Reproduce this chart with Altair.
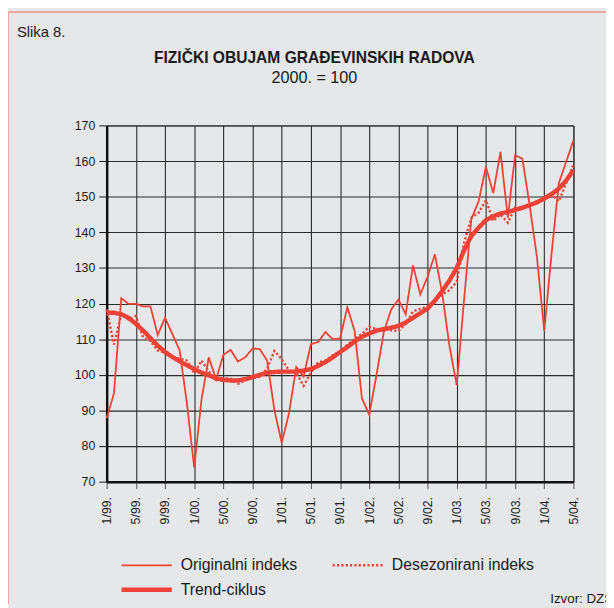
import altair as alt
import pandas as pd

tick_labels = ["1/99.", "5/99.", "9/99.", "1/00.", "5/00.", "9/00.", "1/01.", "5/01.",
               "9/01.", "1/02.", "5/02.", "9/02.", "1/03.", "5/03.", "9/03.", "1/04.", "5/04."]
month_index = list(range(65))

original = [87.8, 94.8, 121.5, 119.9, 119.9, 119.2, 119.2, 111.2, 116.0, 111.5,
            106.9, 92.0, 74.0, 93.0, 104.9, 98.7, 105.6, 107.0, 103.7, 104.9,
            107.4, 107.2, 104.0, 90.1, 80.9, 89.2, 102.2, 99.5, 108.6, 109.2,
            112.0, 110.0, 110.2, 119.0, 112.3, 93.4, 88.8, 100.0, 112.0, 118.3,
            121.1, 117.0, 130.7, 122.6, 127.5, 133.8, 122.9, 108.1, 97.1, 121.0,
            143.7, 148.7, 158.4, 151.0, 162.6, 144.1, 161.6, 160.7, 147.5, 133.0,
            112.3, 134.0, 153.8, 159.8, 165.8]

deseasonalized = [118.3, 108.5, 117.0, 115.5, 116.5, 110.5, 109.5, 106.8, 106.2, 105.2,
                  104.5, 104.0, 100.5, 104.0, 101.0, 98.4, 99.0, 98.9, 97.5, 98.4,
                  99.0, 99.5, 101.7, 106.7, 104.4, 101.2, 100.5, 96.9, 100.5, 103.5,
                  104.0, 105.5, 106.5, 108.5, 110.0, 111.5, 113.5, 112.8, 113.0, 112.5,
                  112.3, 114.2, 117.8, 118.5, 119.2, 121.0, 122.5, 123.8, 126.1, 137.0,
                  144.1, 145.5, 149.0, 143.2, 145.0, 142.7, 146.9, 147.0, 148.0, 148.7,
                  149.2, 150.6, 148.7, 153.8, 159.0]

trend = [117.5, 117.4, 117.0, 116.0, 114.3, 112.4, 110.3, 108.2, 106.4, 105.0,
         103.8, 102.7, 101.6, 100.6, 99.9, 99.0, 98.6, 98.4, 98.4, 98.8,
         99.4, 100.0, 100.6, 100.8, 100.9, 100.9, 100.9, 101.2, 101.6, 102.5,
         103.6, 104.9, 106.4, 107.8, 109.3, 110.7, 111.6, 112.4, 112.8, 113.2,
         113.7, 114.7, 116.0, 117.3, 118.6, 120.8, 123.5, 126.5, 130.0, 134.9,
         139.0, 141.3, 143.4, 144.5, 145.3, 145.7, 146.3, 146.9, 147.6, 148.4,
         149.5, 150.7, 152.3, 154.5, 157.5]

series_names = ["Originalni indeks", "Desezonirani indeks", "Trend-ciklus"]

rows = []
for name, vals in zip(series_names, [original, deseasonalized, trend]):
    for m, v in zip(month_index, vals):
        rows.append({"month": m, "value": v, "series": name})
df = pd.DataFrame(rows)
deco = pd.DataFrame({"k": [0]})

RED = "#ef4136"
FONT = "Liberation Sans"
label_expr = "[" + ",".join("'%s'" % s for s in tick_labels) + "][round(datum.value / 4)]"

legend = alt.Legend(
    title=None, orient="none", legendX=13, legendY=434, columns=2, direction="horizontal",
    symbolType="M-2.5,0H2.5", symbolSize=416, symbolOffset=15,
    labelFontSize=16, labelFont=FONT, labelColor="#1a1a1a", labelOffset=22,
    columnPadding=30, rowPadding=4, padding=0,
)

lines = alt.Chart(df).mark_line().encode(
    x=alt.X("month:Q",
            scale=alt.Scale(domain=[0, 64], nice=False, zero=False),
            axis=alt.Axis(values=list(range(0, 65, 4)), labelExpr=label_expr, title=None,
                          labelAngle=270, labelAlign="right", labelBaseline="middle",
                          labelPadding=8, tickSize=7, tickColor="#555", tickWidth=1,
                          domainColor="#111", domainWidth=2.5, gridColor="#2a2a2a",
                          gridWidth=1.1, labelFontSize=12.5)),
    y=alt.Y("value:Q",
            scale=alt.Scale(domain=[70, 170], nice=False, zero=False),
            axis=alt.Axis(values=list(range(70, 171, 10)), title=None, tickSize=8,
                          tickColor="#111", tickWidth=1, labelPadding=4,
                          domainColor="#111", domainWidth=2.5, gridColor="#2a2a2a",
                          gridWidth=1.1, labelFontSize=12.5)),
    color=alt.Color("series:N", scale=alt.Scale(domain=series_names, range=[RED, RED, RED]),
                    legend=legend),
    strokeDash=alt.StrokeDash("series:N",
                              scale=alt.Scale(domain=series_names,
                                              range=[[1, 0], [2.2, 2.2], [1, 0]]),
                              legend=legend),
    strokeWidth=alt.StrokeWidth("series:N",
                                scale=alt.Scale(type="ordinal", domain=series_names,
                                                range=[1.8, 2.4, 4.5]),
                                legend=legend),
)

BORDER = "#f0908a"
border_top = alt.Chart(deco).mark_rule(color=BORDER, strokeWidth=1.5).encode(
    x=alt.value(-100), x2=alt.value(506), y=alt.value(-115))
border_left = alt.Chart(deco).mark_rule(color=BORDER, strokeWidth=1.5).encode(
    x=alt.value(-100), y=alt.value(-115), y2=alt.value(485))

slika = alt.Chart(deco).mark_text(align="left", baseline="alphabetic", fontSize=15,
                                  font=FONT, color="#1a1a1a").encode(
    x=alt.value(-91), y=alt.value(-90), text=alt.value("Slika 8."))
izvor = alt.Chart(deco).mark_text(align="left", baseline="alphabetic", fontSize=13.5,
                                  font=FONT, color="#1a1a1a").encode(
    x=alt.value(449.5), y=alt.value(484), text=alt.value("Izvor: DZS"))

chart = alt.layer(border_top, border_left, lines, slika, izvor).properties(
    width=473, height=361,
    title=alt.TitleParams(text="FIZIČKI OBUJAM GRAĐEVINSKIH RADOVA",
                          subtitle="2000. = 100", anchor="middle", frame="group",
                          dx=-26, offset=-77, fontSize=15.8, fontWeight="bold",
                          font=FONT, color="#1a1a1a", subtitleFont=FONT,
                          subtitleFontSize=16.4, subtitleColor="#1a1a1a",
                          subtitlePadding=3),
    autosize=alt.AutoSizeParams(type="none"),
    padding={"left": 100, "top": 115, "right": 33, "bottom": 124},
    background="#e6e7e9",
).configure_view(stroke="#333", strokeWidth=1).configure_axis(
    labelFont=FONT, labelColor="#1a1a1a", gridOpacity=1
)

chart.save("out.html", embed_options={"renderer": "svg", "actions": False})
